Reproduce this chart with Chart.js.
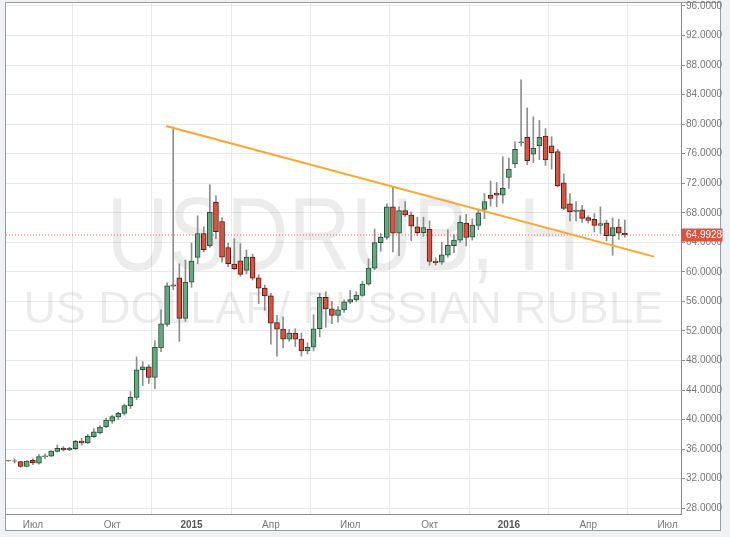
<!DOCTYPE html>
<html>
<head>
<meta charset="utf-8">
<script src="https://cdn.jsdelivr.net/npm/chart.js@4.4.0/dist/chart.umd.min.js"></script>
<style>
  html, body { margin: 0; padding: 0; background: #eef2f5; }
  #wrap { position: relative; width: 730px; height: 537px; }
</style>
</head>
<body>
<div id="wrap"><canvas id="chart" width="730" height="537"></canvas></div>
<script>
// weekly candles, week 0 = 7 Jul 2014
const firstWeek = -4;
const opens = [
  34.45, 34.42, 34.3, 33.65, 34.5, 34.1, 34.98, 35.05, 35.7, 36.15,
  35.9, 36.05, 37.1, 36.85, 37.7, 38.2, 39.0, 39.8, 40.35, 40.85,
  41.9, 43.0, 46.75, 47.15, 45.7, 49.7, 52.9, 58.05, 59.2, 53.7,
  58.6, 61.95, 65.2, 63.55, 69.4, 66.8, 63.3, 61.05, 61.5, 60.2,
  62.0, 59.2, 57.8, 56.75, 53.15, 52.25, 50.9, 51.7, 50.9, 49.3,
  49.8, 52.3, 56.55, 55.0, 54.1, 54.85, 55.9, 56.2, 56.8, 58.35,
  60.5, 63.95, 64.65, 68.8, 65.25, 68.3, 67.7, 66.1, 65.3, 65.8,
  61.45, 61.3, 62.25, 63.55, 64.3, 66.6, 64.7, 66.3, 68.45, 70.4,
  70.65, 70.4, 72.8, 74.6, 77.5, 78.2, 75.95, 77.1, 78.4, 77.05,
  76.3, 72.05, 69.2, 68.2, 68.4, 67.35, 67.1, 66.3, 66.6, 64.9,
  66.05, 65.25
];
const highs = [
  34.5, 34.7, 34.35, 34.45, 34.7, 35.25, 35.35, 35.8, 36.55, 36.35,
  36.25, 37.2, 37.45, 38.0, 38.8, 39.2, 40.2, 40.6, 41.0, 42.1,
  43.8, 48.5, 47.85, 47.4, 50.7, 54.85, 58.5, 79.6, 61.1, 61.6,
  63.9, 67.6, 66.1, 71.8, 70.3, 67.3, 63.9, 64.5, 63.8, 62.95,
  62.4, 59.6, 58.2, 57.1, 54.1, 53.9, 52.2, 52.3, 51.7, 50.4,
  54.2, 57.1, 57.3, 56.0, 55.3, 56.2, 57.5, 57.3, 58.7, 61.75,
  65.8, 65.2, 69.2, 71.5, 68.8, 69.5, 68.1, 67.4, 67.4, 66.9,
  61.9, 64.0, 65.7, 65.0, 67.6, 67.8, 67.2, 68.5, 70.6, 72.3,
  72.1, 75.6, 75.4, 77.6, 86.0, 82.2, 81.0, 80.5, 79.4, 78.3,
  76.6, 73.25, 70.6, 69.5, 69.0, 67.6, 67.9, 68.8, 67.0, 67.3,
  67.1, 67.0
];
const lows = [
  34.35, 34.1, 33.55, 33.6, 33.9, 33.95, 34.7, 35.0, 35.6, 35.75,
  35.8, 35.95, 36.55, 36.75, 37.6, 38.05, 38.9, 39.5, 40.0, 40.6,
  41.5, 42.7, 44.6, 44.9, 44.2, 49.2, 52.6, 57.6, 50.6, 53.3,
  57.9, 61.1, 62.7, 63.3, 64.5, 61.3, 60.7, 60.3, 59.4, 59.7,
  58.9, 55.7, 54.8, 50.2, 48.6, 49.7, 50.6, 49.9, 48.6, 48.9,
  49.3, 51.2, 52.5, 53.0, 53.2, 54.5, 55.7, 56.0, 56.7, 58.2,
  60.3, 62.8, 64.4, 62.7, 62.2, 67.5, 64.2, 64.9, 64.8, 60.9,
  60.9, 61.0, 62.0, 62.6, 64.0, 63.5, 64.3, 65.7, 67.2, 68.9,
  68.8, 69.3, 71.3, 74.1, 77.05, 74.5, 74.8, 75.2, 74.4, 73.9,
  71.5, 68.4, 66.9, 66.9, 66.7, 66.6, 65.4, 65.2, 64.2, 62.25,
  64.4, 64.7
];
const closes = [
  34.4, 34.38, 33.65, 34.4, 34.15, 35.0, 35.08, 35.75, 36.1, 35.9,
  36.15, 37.05, 36.85, 37.75, 38.35, 39.0, 39.95, 40.4, 40.85, 41.9,
  43.0, 46.75, 47.15, 45.7, 49.8, 52.95, 58.1, 58.25, 53.7, 58.6,
  61.45, 65.2, 63.0, 68.05, 65.45, 62.0, 61.1, 60.45, 59.65, 62.0,
  59.15, 57.8, 56.75, 53.05, 52.25, 50.9, 51.7, 50.9, 49.3, 49.8,
  52.3, 56.55, 55.0, 54.1, 54.85, 55.95, 56.25, 56.85, 58.35, 60.5,
  63.95, 64.7, 68.8, 65.25, 68.3, 67.7, 66.2, 65.3, 66.0, 61.4,
  61.25, 62.3, 63.6, 64.3, 66.7, 64.65, 66.35, 68.0, 69.5, 69.95,
  70.4, 71.3, 73.9, 76.6, 77.6, 75.05, 76.75, 78.2, 75.15, 76.15,
  71.65, 68.6, 68.15, 68.35, 67.25, 66.95, 66.3, 66.55, 64.9, 66.0,
  65.25, 64.9928
];

const xTickPos = [0, 13, 26, 39, 52, 65, 78, 91, 104];
const xTickLabels = ["Июл", "Окт", "2015", "Апр", "Июл", "Окт", "2016", "Апр", "Июл"];
const yTicks = [28, 32, 36, 40, 44, 48, 52, 56, 60, 64, 68, 72, 76, 80, 84, 88, 92, 96];
const trendX = [21.85, 101.8];
const trendY = [79.76, 62.06];
const lastPrice = closes[closes.length - 1];

const xMin = -4.4;
const xMax = 106.2;
const yMin = 27.22;
const yMax = 96.4;
const fontFamily = "'Liberation Sans', Arial, sans-serif";

const upFill = "#6ba583";
const upLine = "#225437";
const downFill = "#d75442";
const downLine = "#5b1a13";

const bodyData = opens.map((o, k) => ({ x: firstWeek + k, y: [o, closes[k]] }));
const wickData = opens.map((o, k) => ({ x: firstWeek + k, y: [lows[k], highs[k]] }));
const isUp = opens.map((o, k) => closes[k] >= o);

const framePlugin = {
  id: "frame",
  beforeDraw(chart) {
    const ctx = chart.ctx;
    ctx.save();
    ctx.fillStyle = "#eef2f5";
    ctx.fillRect(0, 0, chart.width, chart.height);
    ctx.fillStyle = "#ffffff";
    ctx.fillRect(6, 3, 715, 528);
    ctx.strokeStyle = "#9c9c9c";
    ctx.lineWidth = 1;
    ctx.strokeRect(5.5, 2.5, 715, 528);
    ctx.restore();
  },
  beforeDatasetsDraw(chart) {
    const { ctx, chartArea } = chart;
    const cx = (chartArea.left + chartArea.right) / 2;
    ctx.save();
    ctx.fillStyle = "rgba(0, 0, 0, 0.075)";
    ctx.textAlign = "center";
    ctx.textBaseline = "alphabetic";
    ctx.font = "104px " + fontFamily;
    ctx.fillText("USDRUB, Н", cx, 270, 474);
    ctx.font = "45px " + fontFamily;
    ctx.fillText("US DOLLAR/ RUSSIAN RUBLE", cx, 323, 640);
    ctx.restore();
  },
  afterDraw(chart) {
    const { ctx, chartArea } = chart;
    const y = chart.scales.y.getPixelForValue(lastPrice);
    ctx.save();
    ctx.fillStyle = "#dc5440";
    ctx.fillRect(chartArea.right, Math.round(y) - 6.5, 41.5, 13);
    ctx.fillStyle = "#ffffff";
    ctx.font = "10px " + fontFamily;
    ctx.textAlign = "left";
    ctx.textBaseline = "middle";
    ctx.fillText(lastPrice.toFixed(4), chartArea.right + 5, Math.round(y));
    ctx.restore();
  },
};

new Chart(document.getElementById("chart"), {
  type: "bar",
  data: {
    datasets: [
      {
        type: "line",
        data: trendX.map((x, k) => ({ x, y: trendY[k] })),
        borderColor: "#fda62a",
        borderWidth: 2,
        pointRadius: 0,
        order: 0,
      },
      {
        data: bodyData,
        backgroundColor: isUp.map((u) => (u ? upFill : downFill)),
        borderColor: isUp.map((u) => (u ? upLine : downLine)),
        borderWidth: 1,
        borderSkipped: false,
        barThickness: 5,
        grouped: false,
        order: 1,
      },
      {
        data: wickData,
        backgroundColor: "#8e8e8e",
        borderWidth: 0,
        barThickness: 1,
        grouped: false,
        order: 2,
      },
      {
        type: "line",
        data: [{ x: xMin, y: lastPrice }, { x: xMax, y: lastPrice }],
        borderColor: "#e2685a",
        borderWidth: 1,
        borderDash: [1, 2],
        pointRadius: 0,
        order: 3,
      },
    ],
  },
  options: {
    responsive: false,
    animation: false,
    events: [],
    layout: { padding: { left: 6, top: 3, right: 0, bottom: 0 } },
    plugins: {
      legend: { display: false },
      tooltip: { enabled: false },
    },
    scales: {
      x: {
        type: "linear",
        min: xMin,
        max: xMax,
        offset: false,
        afterBuildTicks: (scale) => {
          scale.ticks = xTickPos.map((v) => ({ value: v }));
        },
        afterFit: (scale) => {
          scale.height = 23;
          scale.paddingLeft = 0;
          scale.paddingRight = 0;
        },
        ticks: {
          autoSkip: false,
          maxRotation: 0,
          padding: 5,
          color: (ctx) => (/^\d{4}$/.test(xTickLabels[ctx.index]) ? "#555555" : "#777777"),
          font: (ctx) => ({
            family: fontFamily,
            size: 10,
            weight: /^\d{4}$/.test(xTickLabels[ctx.index]) ? "bold" : "normal",
          }),
          callback: (value, index) => xTickLabels[index],
        },
        grid: { color: "#e9e9e9", drawTicks: false, tickLength: 0 },
        border: { color: "#8c8c8c" },
      },
      y: {
        position: "right",
        min: yMin,
        max: yMax,
        afterBuildTicks: (scale) => {
          scale.ticks = yTicks.map((v) => ({ value: v }));
        },
        afterFit: (scale) => {
          scale.width = 49;
          scale.paddingTop = 0;
          scale.paddingBottom = 0;
        },
        ticks: {
          padding: 1,
          color: "#777777",
          font: { family: fontFamily, size: 10 },
          callback: (value) => Number(value).toFixed(4),
        },
        grid: { color: "#e9e9e9", tickLength: 4, tickColor: "#8c8c8c" },
        border: { color: "#8c8c8c" },
      },
    },
  },
  plugins: [framePlugin],
});
</script>
</body>
</html>
